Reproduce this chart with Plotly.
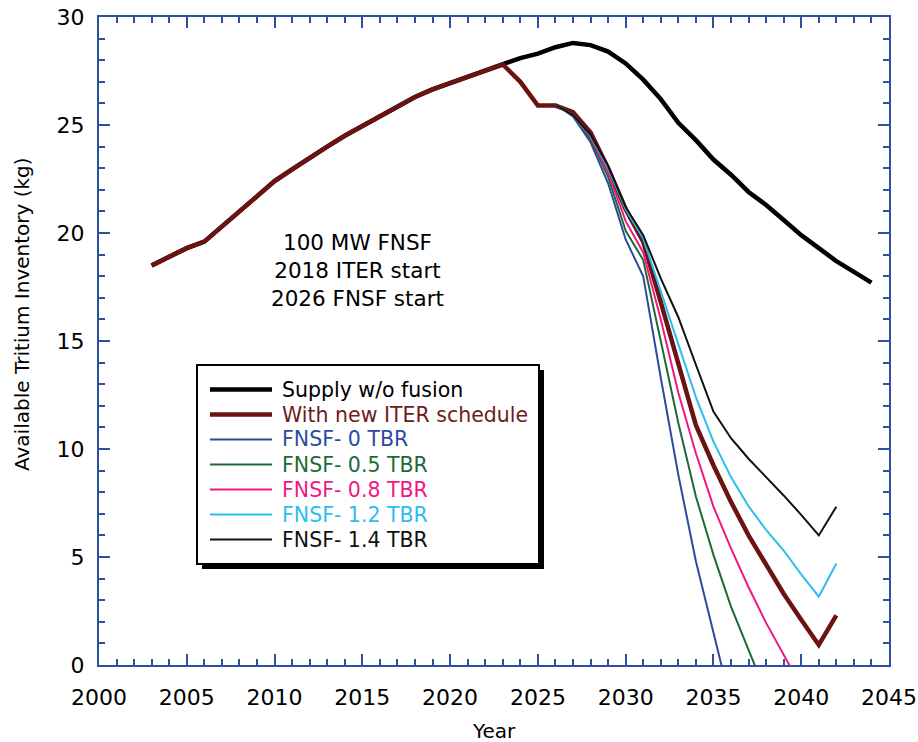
import plotly.graph_objects as go

# ---- data -------------------------------------------------------------
years_hist = list(range(2003, 2024))
hist_kg = [18.5, 18.9, 19.3, 19.6, 20.3, 21.0, 21.75, 22.4, 22.95, 23.5,
           24.0, 24.5, 24.95, 25.4, 25.85, 26.3, 26.65, 26.95, 27.25, 27.5, 27.8]

years_supply = list(range(2024, 2045))
supply_kg = [28.1, 28.3, 28.6, 28.8, 28.7, 28.4, 27.85, 27.1, 26.2, 25.1,
             24.3, 23.4, 22.7, 21.9, 21.3, 20.6, 19.9, 19.3, 18.7, 18.2, 17.7]

years_iter = list(range(2024, 2043))
iter_kg = [27.0, 25.9, 25.9, 25.6, 24.65, 23.0, 21.1, 19.6, 16.8, 14.0,
           11.1, 9.25, 7.55, 6.0, 4.6, 3.3, 2.1, 0.93, 2.3]

fnsf_start = 2026
fnsf_0_0 = [25.95, 25.4, 24.2, 22.3, 19.7, 18.0, 13.3, 8.8, 4.8, 1.4, -1.8]
fnsf_0_5 = [25.95, 25.45, 24.35, 22.6, 20.1, 18.75, 15.0, 11.2, 7.8, 5.1, 2.7, 0.65, -1.3]
fnsf_0_8 = [25.95, 25.45, 24.45, 22.8, 20.55, 19.1, 16.0, 12.6, 9.8, 7.33, 5.4, 3.6,
            1.95, 0.5, -1.0]
fnsf_1_2 = [25.95, 25.45, 24.5, 23.0, 21.1, 19.75, 17.3, 14.8, 12.4, 10.34, 8.7, 7.35,
            6.25, 5.3, 4.2, 3.16, 4.7]
fnsf_1_4 = [25.95, 25.45, 24.55, 23.1, 21.2, 19.9, 17.9, 16.1, 13.9, 11.73, 10.5, 9.55,
            8.7, 7.85, 6.95, 6.0, 7.33]

series_names = ["Supply w/o fusion", "With new ITER schedule", "FNSF- 0 TBR",
                "FNSF- 0.5 TBR", "FNSF- 0.8 TBR", "FNSF- 1.2 TBR", "FNSF- 1.4 TBR"]
note_lines = ["100 MW FNSF", "2018 ITER start", "2026 FNSF start"]

x_ticks = [2000, 2005, 2010, 2015, 2020, 2025, 2030, 2035, 2040, 2045]
y_ticks = [0, 5, 10, 15, 20, 25, 30]

# ---- styling ----------------------------------------------------------
FONT = "DejaVu Sans"
AXIS_BLUE = "#2F4F9F"
C_SUPPLY = "#000000"
C_ITER = "#6B1212"
C_ITER_TXT = "#6E1C1C"
C_F00 = "#2B4BA0"
C_F05 = "#1D6A36"
C_F08 = "#F0187F"
C_F12 = "#2CBDEF"
C_F14 = "#111111"

W, H = 918, 742
L, R, T, B = 99, 889, 17, 665


def px(x):
    return (x - L) / (R - L)


def py(y):
    return (B - y) / (B - T)


fig = go.Figure()

supply_x = years_hist + years_supply
supply_y = hist_kg + supply_kg
iter_x = years_hist + years_iter
iter_y = hist_kg + iter_kg

fig.add_trace(go.Scatter(x=supply_x, y=supply_y, mode="lines",
                         line=dict(color=C_SUPPLY, width=4.5), name=series_names[0]))
fig.add_trace(go.Scatter(x=iter_x, y=iter_y, mode="lines",
                         line=dict(color=C_ITER, width=4.5), name=series_names[1]))

fnsf_sets = [(fnsf_0_0, C_F00), (fnsf_0_5, C_F05), (fnsf_0_8, C_F08),
             (fnsf_1_2, C_F12), (fnsf_1_4, C_F14)]
for i, (vals, col) in enumerate(fnsf_sets):
    xs = [fnsf_start + k for k in range(len(vals))]
    fig.add_trace(go.Scatter(x=xs, y=vals, mode="lines",
                             line=dict(color=col, width=2), name=series_names[2 + i]))

# ---- legend box drawn by hand (long line samples, coloured labels, drop shadow) ----
shapes = []
annotations = []
bx0, by0, bx1, by1 = 197, 365, 539, 564
shapes.append(dict(type="rect", xref="paper", yref="paper",
                   x0=px(bx0 + 5), x1=px(bx1 + 5), y0=py(by1 + 5), y1=py(by0 + 5),
                   fillcolor="black", line=dict(width=0), layer="above"))
shapes.append(dict(type="rect", xref="paper", yref="paper",
                   x0=px(bx0), x1=px(bx1), y0=py(by1), y1=py(by0),
                   fillcolor="white", line=dict(color="black", width=2), layer="above"))

leg_colors = [C_SUPPLY, C_ITER, C_F00, C_F05, C_F08, C_F12, C_F14]
leg_text_colors = [C_SUPPLY, C_ITER_TXT, C_F00, C_F05, C_F08, C_F12, C_F14]
leg_widths = [4.5, 4.5, 2, 2, 2, 2, 2]
row0, row_step = 389.5, 25
for i, name in enumerate(series_names):
    ry = row0 + i * row_step
    shapes.append(dict(type="line", xref="paper", yref="paper",
                       x0=px(210), x1=px(272), y0=py(ry), y1=py(ry),
                       line=dict(color=leg_colors[i], width=leg_widths[i]), layer="above"))
    annotations.append(dict(text=name, xref="paper", yref="paper",
                            x=px(280), y=py(ry), xanchor="left", yanchor="middle",
                            showarrow=False,
                            font=dict(family=FONT, size=20.5, color=leg_text_colors[i])))

# ---- scenario note ----
annotations.append(dict(text="<br>".join(note_lines), xref="paper", yref="paper",
                        x=px(357), y=py(270), xanchor="center", yanchor="middle",
                        showarrow=False, align="center",
                        font=dict(family=FONT, size=21.5, color="black")))

# ---- axis titles ----
annotations.append(dict(text="Year", xref="paper", yref="paper",
                        x=px(494), y=py(731), xanchor="center", yanchor="middle",
                        showarrow=False, font=dict(family=FONT, size=20, color="black")))
annotations.append(dict(text="Available Tritium Inventory (kg)", xref="paper", yref="paper",
                        x=px(22), y=py(314), xanchor="center", yanchor="middle",
                        textangle=-90, showarrow=False,
                        font=dict(family=FONT, size=20, color="black")))

axis_common = dict(showline=True, linecolor=AXIS_BLUE, linewidth=2, mirror="ticks",
                   ticks="inside", ticklen=11, tickwidth=1.5, tickcolor=AXIS_BLUE,
                   showgrid=False, zeroline=False, automargin=False,
                   tickfont=dict(family=FONT, size=22, color="black"))

fig.update_layout(
    width=W, height=H,
    margin=dict(l=L, r=W - R, t=T, b=H - B, autoexpand=False),
    paper_bgcolor="white", plot_bgcolor="white",
    showlegend=False,
    font=dict(family=FONT, color="black"),
    xaxis=dict(range=[2000, 2045], tickvals=x_ticks, ticktext=[str(v) for v in x_ticks],
               minor=dict(dtick=1, ticks="inside", ticklen=6, tickwidth=1.5,
                          tickcolor=AXIS_BLUE, showgrid=False),
               ticklabelstandoff=12, **axis_common),
    yaxis=dict(range=[0, 30], tickvals=y_ticks, ticktext=[str(v) for v in y_ticks],
               minor=dict(dtick=1, ticks="inside", ticklen=6, tickwidth=1.5,
                          tickcolor=AXIS_BLUE, showgrid=False),
               ticklabelstandoff=8, **axis_common),
    shapes=shapes,
    annotations=annotations,
)

fig.write_html("out.html")
